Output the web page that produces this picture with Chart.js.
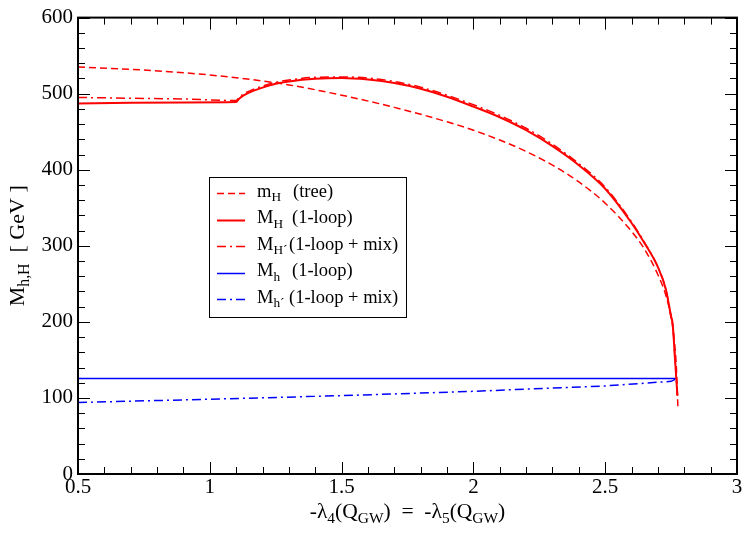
<!DOCTYPE html>
<html>
<head>
<meta charset="utf-8">
<script src="https://cdn.jsdelivr.net/npm/chart.js@4.4.1/dist/chart.umd.min.js"></script>
<style>
  body { margin: 0; background: #fff; }
  #wrap { width: 747px; height: 534px; }
</style>
</head>
<body>
<div id="wrap"><canvas id="c" width="747" height="534"></canvas></div>
<script>
// m_H (tree)
let xTree = [0.5, 0.7, 0.9, 1.1, 1.3, 1.5, 1.7, 1.9, 2.0, 2.1, 2.2, 2.3, 2.4, 2.5, 2.6, 2.65, 2.7, 2.73, 2.75, 2.76, 2.77, 2.776];
let mTree = [535, 532, 527.5, 521, 511.5, 498, 482, 463, 452, 439, 424, 406, 384, 356, 319, 295, 262, 235, 206, 182, 140, 86];

// M_H (1-loop)
let xLoop = [0.5, 0.7, 0.9, 1.1, 1.11, 1.13, 1.16, 1.2, 1.25, 1.3, 1.4, 1.5, 1.6, 1.7, 1.8, 1.9, 2.0, 2.1, 2.2, 2.3, 2.4, 2.5, 2.6, 2.65, 2.7, 2.73, 2.75, 2.756, 2.765, 2.774];
let mLoop = [487, 488, 488.5, 489, 493, 498, 503, 508, 513, 516, 519.5, 520.5, 518.5, 514, 506.5, 496, 483, 469, 452, 431, 406, 375, 330, 303, 272, 243, 207, 197, 150, 103];

// M_H' (1-loop + mix)
let xMix = [0.5, 0.7, 0.9, 1.1, 1.11, 1.13, 1.16, 1.2, 1.25, 1.3, 1.4, 1.5, 1.6, 1.7, 1.8, 1.9, 2.0, 2.1, 2.2, 2.3, 2.4, 2.5, 2.6, 2.65, 2.7, 2.73, 2.75, 2.756, 2.765, 2.774];
let mMix = [495, 494, 493, 491, 495, 500, 505, 510, 515, 518, 521.5, 522, 520.5, 516, 508.5, 498, 485.5, 471.5, 454.5, 433.5, 408, 377, 331.5, 304, 272, 243, 207, 197, 150, 103];

// M_h (1-loop)
let xLight = [0.5, 1.0, 1.5, 2.0, 2.5, 2.772];
let mLight = [125.5, 125.5, 125.5, 125.5, 125.5, 125.5];

// M_h' (1-loop + mix)
let xLightMix = [0.5, 1.0, 1.5, 2.0, 2.5, 2.75, 2.772];
let mLightMix = [94, 98.3, 103, 108.7, 115.8, 121.8, 125.5];

let xTicks = [0.5, 1, 1.5, 2, 2.5, 3];
let yTicks = [0, 100, 200, 300, 400, 500, 600];

function pts(xs, ys) {
    return xs.map(function (x, i) { return { x: x, y: ys[i] }; });
}

const SERIF = "'Liberation Serif', 'DejaVu Serif', serif";

// text with subscript pieces: parts = [[text, sub], ...]
function richWidth(ctx, parts, size) {
    let w = 0;
    parts.forEach(function (p) {
        ctx.font = (p[1] ? size * 0.72 : size) + "px " + SERIF;
        w += ctx.measureText(p[0]).width;
    });
    return w;
}

function drawRich(ctx, parts, x, y, size) {
    let cx = x;
    parts.forEach(function (p) {
        ctx.font = (p[1] ? size * 0.72 : size) + "px " + SERIF;
        ctx.fillText(p[0], cx, p[1] ? y + size * 0.32 : y);
        cx += ctx.measureText(p[0]).width;
    });
}

const legendRows = [
    { color: "#ff0000", dash: [7, 4], width: 1.5, main: [["m", false], ["H", true]], rest: "(tree)", restX: 293 },
    { color: "#ff0000", dash: [], width: 2, main: [["M", false], ["H", true]], rest: "(1-loop)", restX: 292 },
    { color: "#ff0000", dash: [9, 4, 2, 4], width: 1.5, main: [["M", false], ["H\u00b4", true]], rest: "(1-loop + mix)", restX: 289 },
    { color: "#0000ff", dash: [], width: 1.5, main: [["M", false], ["h", true]], rest: "(1-loop)", restX: 292 },
    { color: "#0000ff", dash: [9, 4, 2, 4], width: 1.5, main: [["M", false], ["h\u00b4", true]], rest: "(1-loop + mix)", restX: 289 }
];

const framePlugin = {
    id: "frame",
    afterDatasetsDraw(chart) {
        const ctx = chart.ctx;
        const a = chart.chartArea;
        const xs = chart.scales.x, ys = chart.scales.y;
        ctx.save();
        ctx.strokeStyle = "#000";
        ctx.lineWidth = 1;
        // minor and major ticks, pointing in, on all four sides
        for (let i = 0; i <= 25; i++) {
            const v = 0.5 + i * 0.1;
            const px = Math.round(xs.getPixelForValue(v)) + 0.5;
            const len = i % 5 === 0 ? 12 : 7;
            ctx.beginPath();
            ctx.moveTo(px, a.bottom); ctx.lineTo(px, a.bottom - len);
            ctx.moveTo(px, a.top); ctx.lineTo(px, a.top + len);
            ctx.stroke();
        }
        for (let i = 0; i <= 30; i++) {
            const v = i * 20;
            const py = Math.round(ys.getPixelForValue(v)) + 0.5;
            const len = i % 5 === 0 ? 12 : 7;
            ctx.beginPath();
            ctx.moveTo(a.left, py); ctx.lineTo(a.left + len, py);
            ctx.moveTo(a.right, py); ctx.lineTo(a.right - len, py);
            ctx.stroke();
        }
        ctx.lineWidth = 2;
        ctx.strokeRect(a.left, a.top, a.right - a.left, a.bottom - a.top);

        // legend box
        ctx.fillStyle = "#fff";
        ctx.fillRect(209, 177, 198, 141);
        ctx.lineWidth = 1;
        ctx.strokeRect(209.5, 177.5, 197, 140);
        ctx.textBaseline = "middle";
        ctx.fillStyle = "#000";
        legendRows.forEach(function (r, i) {
            const y = 193 + i * 26.5;
            ctx.strokeStyle = r.color;
            ctx.lineWidth = r.width;
            ctx.setLineDash(r.dash);
            ctx.beginPath();
            ctx.moveTo(217, Math.round(y) + 0.5);
            ctx.lineTo(245, Math.round(y) + 0.5);
            ctx.stroke();
            ctx.setLineDash([]);
            ctx.textAlign = "left";
            drawRich(ctx, r.main, 257, y - 1, 18.5);
            ctx.font = "18.5px " + SERIF;
            ctx.fillText(r.rest, r.restX, y - 1);
        });

        // axis titles
        ctx.fillStyle = "#000";
        ctx.textAlign = "left";
        ctx.textBaseline = "middle";
        const xt = [["-\u03bb", false], ["4", true], ["(Q", false], ["GW", true], [")  =  -\u03bb", false], ["5", true], ["(Q", false], ["GW", true], [")", false]];
        const xw = richWidth(ctx, xt, 21.5);
        drawRich(ctx, xt, (a.left + a.right) / 2 - xw / 2, 512, 21.5);

        const yt = [["M", false], ["h,H", true], ["  [ GeV ]", false]];
        ctx.translate(18, (a.top + a.bottom) / 2);
        ctx.rotate(-Math.PI / 2);
        const yw = richWidth(ctx, yt, 22);
        drawRich(ctx, yt, -yw / 2, 0, 22);
        ctx.restore();
    }
};

function lineSet(data, color, dash, width, smooth) {
    return {
        data: data,
        borderColor: color,
        borderWidth: width,
        borderDash: dash,
        pointRadius: 0,
        fill: false,
        tension: smooth ? 0.4 : 0,
        cubicInterpolationMode: smooth ? "monotone" : "default"
    };
}

new Chart("c", {
    type: "line",
    data: {
        datasets: [
            lineSet(pts(xTree, mTree), "#ff0000", [7, 4], 1.5, true),
            lineSet(pts(xLoop, mLoop), "#ff0000", [], 2, true),
            lineSet(pts(xMix, mMix), "#ff0000", [9, 4, 2, 4], 1.5, true),
            lineSet(pts(xLight, mLight), "#0000ff", [], 1.5, false),
            lineSet(pts(xLightMix, mLightMix), "#0000ff", [9, 4, 2, 4], 1.5, false)
        ]
    },
    options: {
        responsive: false,
        animation: false,
        layout: { padding: { top: 14, right: 10, left: 0, bottom: 0 } },
        plugins: { legend: { display: false }, tooltip: { enabled: false } },
        scales: {
            x: {
                type: "linear",
                min: 0.5,
                max: 3,
                afterBuildTicks: function (s) { s.ticks = xTicks.map(function (v) { return { value: v }; }); },
                afterFit: function (s) { s.height = 60; },
                grid: { display: false, drawTicks: false },
                border: { display: false },
                ticks: {
                    color: "#000",
                    padding: 1,
                    maxRotation: 0,
                    font: { family: SERIF, size: 21 },
                    callback: function (v) { return String(v); }
                }
            },
            y: {
                type: "linear",
                min: 0,
                max: 600,
                afterBuildTicks: function (s) { s.ticks = yTicks.map(function (v) { return { value: v }; }); },
                afterFit: function (s) { s.width = 78; },
                grid: { display: false, drawTicks: false },
                border: { display: false },
                ticks: {
                    color: "#000",
                    padding: 5,
                    font: { family: SERIF, size: 21 }
                }
            }
        }
    },
    plugins: [framePlugin]
});
</script>
</body>
</html>
